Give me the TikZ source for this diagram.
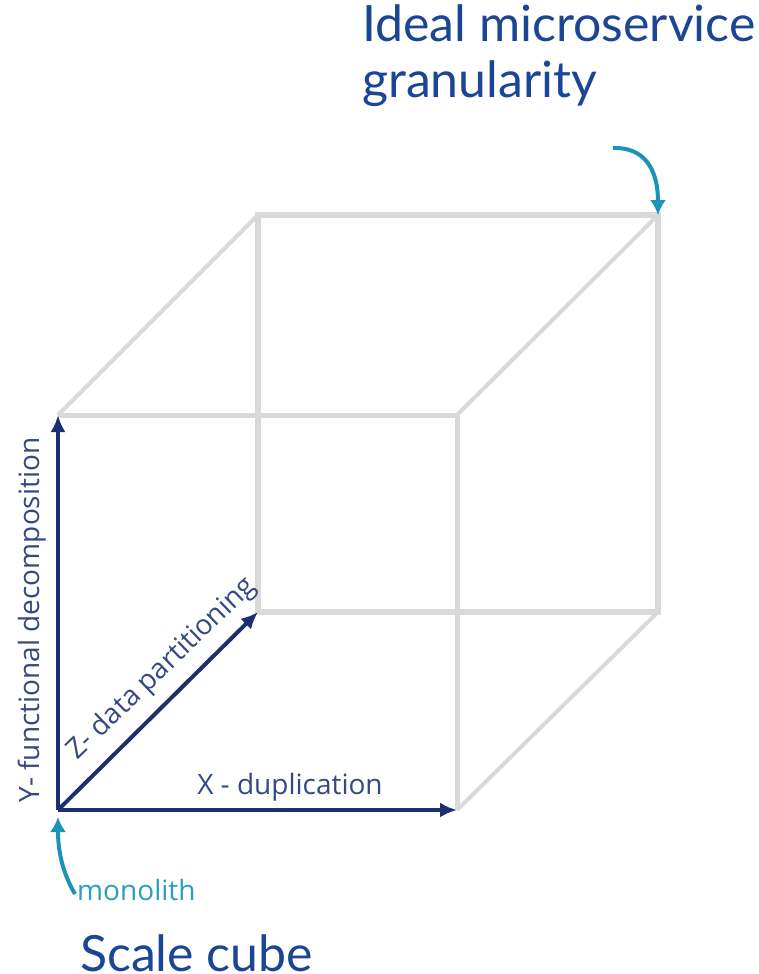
\documentclass[tikz,border=0pt]{standalone}
\usepackage{fontspec}
\setmainfont{Open Sans}
\newfontfamily\titlefont{Lato}
\usetikzlibrary{arrows.meta}
\definecolor{cubegray}{HTML}{D9D9D9}
\definecolor{axisblue}{HTML}{1C2F6E}
\definecolor{labelblue}{HTML}{34497F}
\definecolor{titleblue}{HTML}{1B4595}
\definecolor{pointcyan}{HTML}{1A93B5}
\definecolor{monocyan}{HTML}{2A9EC0}
\tikzset{
  backedge/.style={draw=cubegray, line width=5.5pt},
  frontedge/.style={draw=cubegray, line width=5pt},
  diagedge/.style={draw=cubegray, line width=4pt},
  axisarrow/.style={draw=axisblue, line width=4pt, -{Latex[length=17pt,width=15pt]}},
  pointer/.style={draw=pointcyan, line width=4pt, -{Latex[length=15pt,width=16pt]}},
  axislabel/.style={text=labelblue, font=\fontsize{28}{31}\selectfont, inner sep=0pt},
  titletext/.style={text=titleblue, font=\titlefont\fontsize{50}{56}\selectfont, inner sep=0pt, align=left},
}
\begin{document}
\begin{tikzpicture}[x=1pt, y=-1pt]
\useasboundingbox (0,0) rectangle (758,974);
% cube corners
\coordinate (F00) at (58,810);
\coordinate (F01) at (58,415);
\coordinate (F10) at (457,810);
\coordinate (F11) at (457,415);
\coordinate (B00) at (258,612);
\coordinate (B01) at (258,215);
\coordinate (B10) at (658,612);
\coordinate (B11) at (658,215);
% back square
\draw[backedge, line join=miter] (B00) -- (B01) -- (B11) -- (B10) -- cycle;
% diagonals
\draw[diagedge] (F01) -- (B01);
\draw[diagedge] (F11) -- (B11);
\draw[diagedge] (F10) -- (B10);
% front square (gray part)
\draw[frontedge] (F01) -- (F11) -- (F10);
% axes
\draw[axisarrow] (F00) -- (F01);
\draw[axisarrow] (F00) -- (F10);
\draw[axisarrow] (F00) -- (B00);
% pointers
\coordinate (topstart) at (613,148);
\draw[pointer] (topstart) .. controls (645,147) and (658,170) .. (B11);
\node[text=monocyan, font=\fontsize{28}{31}\selectfont, inner sep=0pt, anchor=base west] (mono) at (77,900) {monolith};
\draw[pointer, shorten >=7pt] (75,894) .. controls (62,872) and (58,850) .. (F00);
% labels
\node[axislabel, rotate=90] (ylab) at (32,620) {Y- functional decomposition};
\node[axislabel, anchor=base] (xlab) at (290,794) {X - duplication};
\node[axislabel, rotate=44] (zlab) at (162,669) {Z- data partitioning};
% titles
\node[titletext, anchor=north west] (ideal) at (362,4) {Ideal microservice\\granularity};
\node[titletext, anchor=base west] (scale) at (80,971) {Scale cube};
\end{tikzpicture}
\end{document}
